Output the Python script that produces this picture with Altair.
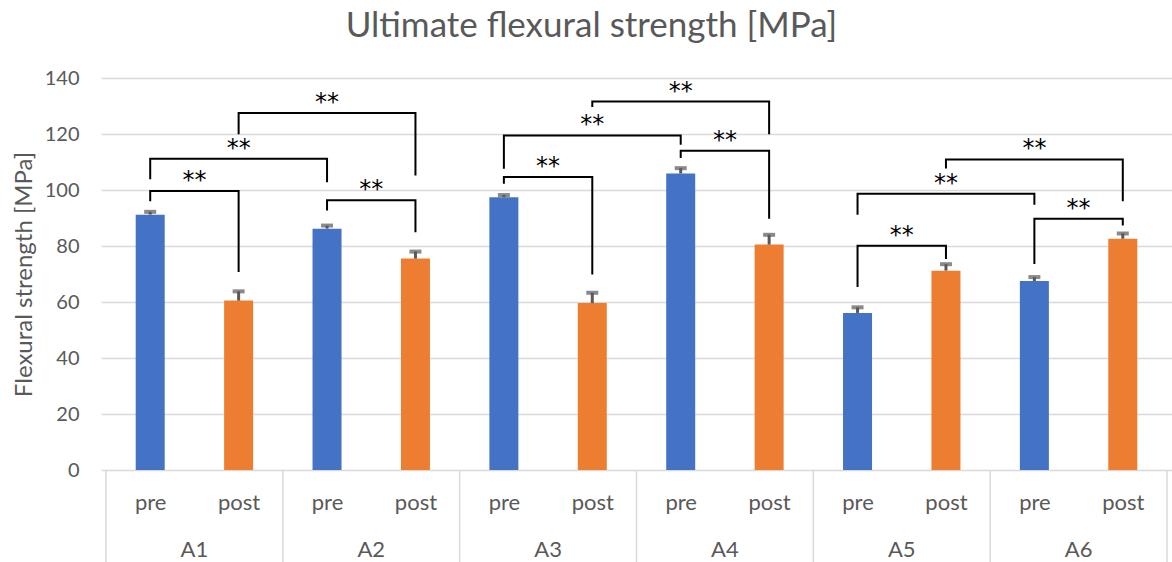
import altair as alt
import pandas as pd

# ---- data ----
groups = ["A1", "A2", "A3", "A4", "A5", "A6"]
phases = ["pre", "post"]
pre_vals = [91.2, 86.2, 97.4, 105.9, 56.1, 67.5]
post_vals = [60.5, 75.5, 59.6, 80.5, 71.2, 82.6]
pre_err = [1.0, 1.1, 0.8, 1.9, 2.0, 1.4]
post_err = [3.3, 2.5, 3.7, 3.5, 2.3, 1.9]

# significance brackets: bar index (0..11) of each end, leg bottoms and bracket level
br_left = [0, 0, 1, 2, 4, 4, 5, 6, 8, 8, 9, 10]
br_right = [1, 2, 3, 3, 5, 6, 7, 7, 9, 10, 11, 11]
br_left_low = [96.0, 103.8, 119.9, 92.7, 102.2, 107.6, 129.6, 111.4, 65.4, 91.2, 107.7, 73.6]
br_top = [99.6, 111.2, 127.5, 96.3, 104.6, 119.5, 131.6, 114.0, 80.1, 98.7, 110.9, 89.7]
br_right_low = [70.7, 102.8, 105.2, 84.9, 69.8, 116.2, 119.9, 89.7, 75.4, 94.7, 96.0, 87.3]
br_label = "**"

y_ticks = [0, 20, 40, 60, 80, 100, 120, 140]

# ---- build tables ----
rows = []
for gi, g in enumerate(groups):
    for pi, p in enumerate(phases):
        v = pre_vals[gi] if pi == 0 else post_vals[gi]
        e = pre_err[gi] if pi == 0 else post_err[gi]
        rows.append(dict(group=g, phase=p, pos=2 * gi + pi + 0.5, value=v, upper=v + e))
bars_df = pd.DataFrame(rows)

path_rows, star_rows = [], []
for b in range(len(br_left)):
    xl = br_left[b] + 0.5
    xr = br_right[b] + 0.5
    pts = [(xl, br_left_low[b]), (xl, br_top[b]), (xr, br_top[b]), (xr, br_right_low[b])]
    for o, (px, py) in enumerate(pts):
        path_rows.append(dict(bid=b, ord=o, pos=px, value=py))
    star_rows.append(dict(pos=(xl + xr) / 2, value=br_top[b], label=br_label))
path_df = pd.DataFrame(path_rows)
star_df = pd.DataFrame(star_rows)

grp_df = pd.DataFrame(dict(group=groups, pos=[2 * i + 1 for i in range(len(groups))]))
div_df = pd.DataFrame(dict(pos=[2 * i for i in range(len(groups) + 1)]))

# ---- styling ----
W, H = 1071, 392
FONT = "Lato"
TXT = "#595959"
GRID = "#D9D9D9"
BLUE = "#4472C4"
ORANGE = "#ED7D31"

xscale = alt.Scale(domain=[0, 12], nice=False, zero=False)
yscale = alt.Scale(domain=[0, 140], nice=False)

x_axis = alt.Axis(
    values=[i + 0.5 for i in range(12)],
    labelExpr="(floor(datum.value) % 2 == 0) ? 'pre' : 'post'",
    title=None, grid=False, ticks=False, domain=False,
    labelFont=FONT, labelFontSize=22, labelColor=TXT,
    labelPadding=32, labelBaseline="middle",
)
y_axis = alt.Axis(
    values=y_ticks, title="Flexural strength [MPa]", grid=True, gridColor=GRID,
    gridWidth=1.5, domain=False, ticks=False,
    labelFont=FONT, labelFontSize=20, labelColor=TXT, labelPadding=22,
    titleFont=FONT, titleFontSize=24, titleColor=TXT, titleFontWeight="normal",
    titlePadding=8,
)

X = alt.X("pos:Q", scale=xscale, axis=x_axis)
Y = alt.Y("value:Q", scale=yscale, axis=y_axis)

bars = alt.Chart(bars_df).mark_bar(size=29).encode(
    x=X, y=Y,
    color=alt.Color("phase:N", scale=alt.Scale(domain=phases, range=[BLUE, ORANGE]), legend=None),
)

stems = alt.Chart(bars_df).mark_rule(color=TXT, strokeWidth=3).encode(
    x=X, y=Y, y2="upper:Q"
)
caps = alt.Chart(bars_df).mark_tick(color=TXT, thickness=4, size=12, orient="horizontal").encode(
    x=X, y=alt.Y("upper:Q", scale=yscale, axis=y_axis)
)

paths = alt.Chart(path_df).mark_line(color="black", strokeWidth=2).encode(
    x=X, y=Y, detail="bid:N", order="ord:Q"
)
stars = alt.Chart(star_df).mark_text(
    font="DejaVu Sans", fontSize=24, color="black", baseline="alphabetic", dy=-3
).encode(x=X, y=Y, text="label:N")

grp_labels = alt.Chart(grp_df).mark_text(
    font=FONT, fontSize=22, color=TXT, baseline="alphabetic"
).encode(x=X, y=alt.value(H + 87), text="group:N")

dividers = alt.Chart(div_df).mark_rule(color=GRID, strokeWidth=1.5).encode(
    x=X, y=alt.value(H), y2=alt.value(H + 92)
)

chart = alt.layer(bars, stems, caps, paths, stars, dividers, grp_labels).properties(
    width=W, height=H,
    padding={"left": 101, "top": 78, "right": 0, "bottom": 92},
    autosize=alt.AutoSizeParams(type="none"),
    title=alt.TitleParams(
        "Ultimate flexural strength [MPa]", font=FONT, fontSize=35, fontWeight="normal",
        color=TXT, anchor="middle", offset=24, dx=-45,
    ),
).configure(background="white").configure_view(stroke=None)

chart.save("out.html", embed_options={"renderer": "svg", "actions": False})
